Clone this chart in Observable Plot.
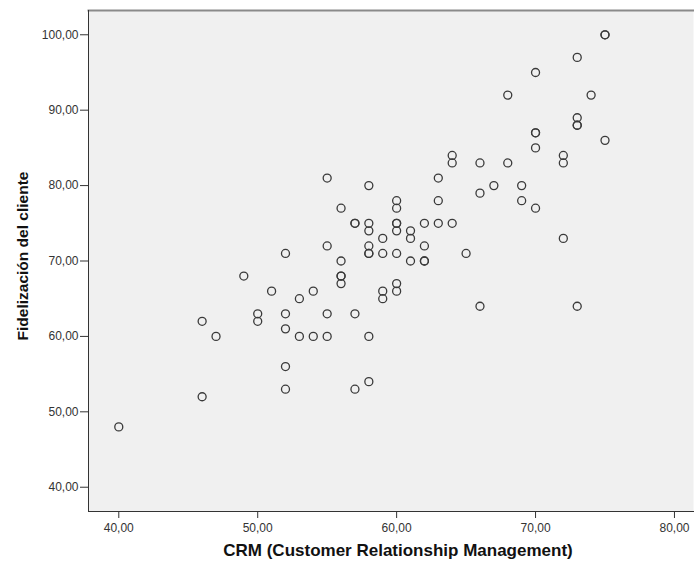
<!DOCTYPE html>
<html>
<head>
<meta charset="utf-8">
<script src="https://cdn.jsdelivr.net/npm/d3@7"></script>
<script src="https://cdn.jsdelivr.net/npm/@observablehq/plot@0.6"></script>
<style>
  html, body { margin: 0; padding: 0; background: #fff; }
  #chart svg { display: block; }
</style>
</head>
<body>
<div id="chart"></div>
<script>
const crm = [
  40, 46, 46, 47, 49, 50, 50, 51,
  52, 52, 52, 52, 52, 53, 53, 54, 54,
  55, 55, 55, 55, 56, 56, 56, 56, 56,
  57, 57, 57, 57, 58, 58, 58, 58, 58, 58, 58, 58,
  59, 59, 59, 59, 60, 60, 60, 60, 60, 60, 60, 60,
  61, 61, 61, 62, 62, 62, 62, 63, 63, 63, 64, 64, 64, 65,
  66, 66, 66, 67, 68, 68, 69, 69, 70, 70, 70, 70, 70,
  72, 72, 72, 73, 73, 73, 73, 73, 74, 75, 75, 75
];
const fidelizacion = [
  48, 62, 52, 60, 68, 63, 62, 66,
  71, 63, 61, 56, 53, 65, 60, 66, 60,
  81, 72, 63, 60, 77, 70, 68, 68, 67,
  75, 75, 63, 53, 80, 75, 74, 72, 71, 71, 60, 54,
  73, 71, 66, 65, 78, 77, 75, 75, 74, 71, 67, 66,
  74, 73, 70, 75, 72, 70, 70, 81, 78, 75, 84, 83, 75, 71,
  83, 79, 64, 80, 92, 83, 80, 78, 95, 87, 87, 85, 77,
  84, 83, 73, 97, 89, 88, 88, 64, 92, 100, 100, 86
];
const xTicks = [40, 50, 60, 70, 80];
const yTicks = [40, 50, 60, 70, 80, 90, 100];
const xLabel = "CRM (Customer Relationship Management)";
const yLabel = "Fidelización del cliente";

const data = crm.map((x, i) => ({x, y: fidelizacion[i]}));
const fmt = d => d.toFixed(2).replace(".", ",");
const font = "'Liberation Sans', Arial, sans-serif";

const chart = Plot.plot({
  width: 694,
  height: 564,
  marginLeft: 88,
  marginRight: 1,
  marginTop: 10,
  marginBottom: 53,
  style: {fontFamily: font, fontSize: "12px", color: "#222", background: "#fff"},
  x: {domain: [37.82, 81.37]},
  y: {domain: [36.78, 103.22]},
  marks: [
    Plot.frame({fill: "#f0f0f0", stroke: null}),
    Plot.frame({anchor: "top", stroke: "#8a8a8a", strokeWidth: 2}),
    Plot.frame({anchor: "left", stroke: "#333"}),
    Plot.frame({anchor: "bottom", stroke: "#333"}),
    Plot.axisX({ticks: xTicks, tickFormat: fmt, tickSize: 7, tickPadding: 5, label: null, stroke: "#333", fill: "#333", fontSize: 12}),
    Plot.axisY({ticks: yTicks, tickFormat: fmt, tickSize: 8, tickPadding: 2, label: null, stroke: "#333", fill: "#333", fontSize: 12}),
    Plot.dot(data, {x: "x", y: "y", r: 4, stroke: "#3a3a3a", strokeWidth: 1.3, fill: "none"}),
    Plot.text([xLabel], {frameAnchor: "bottom", dy: 44, dx: 7, fontSize: 17, fontWeight: "bold", fill: "#111", textAnchor: "middle"}),
    Plot.text([yLabel], {frameAnchor: "left", dx: -65, dy: -5, rotate: -90, fontSize: 15.5, fontWeight: "bold", fill: "#111", textAnchor: "middle"})
  ]
});
document.getElementById("chart").appendChild(chart);
</script>
</body>
</html>
